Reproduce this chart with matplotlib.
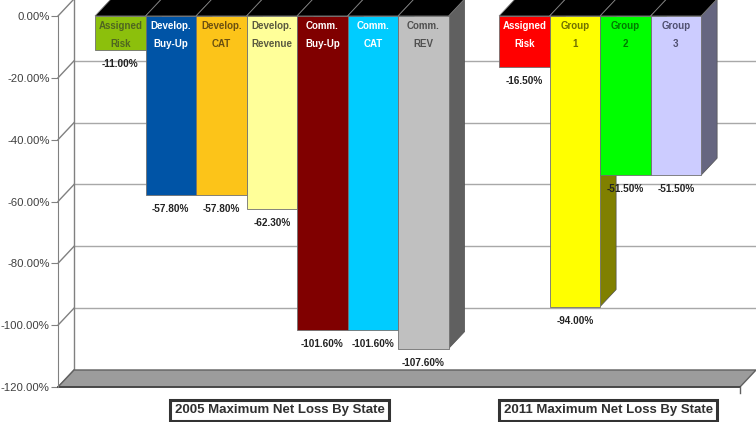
import matplotlib.pyplot as plt
from matplotlib.patches import Polygon, Rectangle
import matplotlib.colors as mcolors

# данные
labels_2005 = ['Assigned\nRisk', 'Develop.\nBuy-Up', 'Develop.\nCAT', 'Develop.\nRevenue',
               'Comm.\nBuy-Up', 'Comm.\nCAT', 'Comm.\nREV']
values_2005 = [-11.0, -57.8, -57.8, -62.3, -101.6, -101.6, -107.6]
colors_2005 = ['#8cc00c', '#0054a6', '#fcc419', '#ffff99', '#800000', '#00ccff', '#c0c0c0']
text_colors_2005 = ['#4f6620', 'white', '#6b5010', '#5a5a40', 'white', 'white', '#505050']

labels_2011 = ['Assigned\nRisk', 'Group\n1', 'Group\n2', 'Group\n3']
values_2011 = [-16.5, -94.0, -51.5, -51.5]
colors_2011 = ['#ff0000', '#ffff00', '#00ff00', '#ccccff']
text_colors_2011 = ['white', '#707000', '#007a00', '#505070']

group_titles = ['2005 Maximum Net Loss By State', '2011 Maximum Net Loss By State']
y_ticks = [0, -20, -40, -60, -80, -100, -120]

FONT = ['Liberation Sans', 'DejaVu Sans']

W, H = 756, 422
fig = plt.figure(figsize=(W / 100, H / 100), dpi=100)
ax = fig.add_axes([58 / W, (H - 387) / H, (740 - 58) / W, (387 - 16) / H])

xmin, xmax = -0.733, 12.77
ax.set_xlim(xmin, xmax)
ax.set_ylim(-120, 0)
DX, DY = 0.317, 5.5  # смещение глубины

ax.set_yticks(y_ticks)
ax.set_yticklabels(['%.2f%%' % t for t in y_ticks], fontsize=8.2, color='#404040', family=FONT)
ax.set_xticks([])
ax.tick_params(axis='y', length=5, color='#808080', pad=1)
for s in ['top', 'right', 'bottom']:
    ax.spines[s].set_visible(False)
ax.spines['left'].set_color('#808080')
ax.patch.set_visible(False)

grid_c = '#a8a8a8'
# задняя стенка и сетка
for t in y_ticks[1:-1]:
    ax.plot([xmin + DX, xmax + DX], [t + DY, t + DY], color=grid_c, lw=1, clip_on=False, zorder=1)
for t in y_ticks:
    ax.plot([xmin, xmin + DX], [t, t + DY], color='#808080', lw=1, clip_on=False, zorder=1)
ax.plot([xmin + DX, xmin + DX], [DY, -120 + DY], color='#808080', lw=1, clip_on=False, zorder=1)
ax.plot([xmin + DX, xmax + DX], [DY, DY], color='#808080', lw=1, clip_on=False, zorder=1)

# пол
floor = Polygon([(xmin, -120), (xmin + DX, -120 + DY), (xmax + DX, -120 + DY), (xmax, -120)],
                closed=True, facecolor='#9c9c9c', edgecolor='#606060', lw=1, clip_on=False, zorder=2)
ax.add_patch(floor)
ax.plot([xmin, xmax], [-120, -120], color='#404040', lw=1.2, clip_on=False, zorder=2)
ax.plot([xmax, xmax], [-120, -121.8], color='#606060', lw=1, clip_on=False, zorder=2)


def dark(c, f=0.5):
    r, g, b = mcolors.to_rgb(c)
    return (r * f, g * f, b * f)


def draw_group(start, labels, values, colors, tcolors, z0):
    for i, (lab, v, c, tc) in enumerate(zip(labels, values, colors, tcolors)):
        x = start + i
        z = z0 + i * 3
        side = Polygon([(x + 1, 0), (x + 1 + DX, DY), (x + 1 + DX, v + DY), (x + 1, v)],
                       closed=True, facecolor=dark(c), edgecolor='#505050', lw=0.5,
                       clip_on=False, zorder=z)
        top = Polygon([(x, 0), (x + DX, DY), (x + 1 + DX, DY), (x + 1, 0)],
                      closed=True, facecolor='black', edgecolor='#808080', lw=0.6,
                      clip_on=False, zorder=z + 1)
        front = Rectangle((x, v), 1, -v, facecolor=c, edgecolor='#707070', lw=0.6,
                          clip_on=False, zorder=z + 2)
        ax.add_patch(side)
        ax.add_patch(top)
        ax.add_patch(front)
        l1, l2 = lab.split('\n')
        ax.text(x + 0.5, -3.3, l1, ha='center', va='center', fontsize=7, color=tc,
                fontweight='bold', family=FONT, zorder=z + 2)
        ax.text(x + 0.5, -9.2, l2, ha='center', va='center', fontsize=7, color=tc,
                fontweight='bold', family=FONT, zorder=z + 2)
        ax.text(x + 0.5, v - 4.5, '%.2f%%' % v, ha='center', va='center', fontsize=7.2,
                color='#222222', fontweight='bold', family=FONT, zorder=50)


start_2011 = len(values_2005) + 1
draw_group(0, labels_2005, values_2005, colors_2005, text_colors_2005, 10)
draw_group(start_2011, labels_2011, values_2011, colors_2011, text_colors_2011, 40)

# подписи групп
centers = [len(values_2005) / 2 + 0.16, start_2011 + len(values_2011) / 2 + 0.16]
for cx, title in zip(centers, group_titles):
    ax.text(cx, -127.6, title, ha='center', va='center', fontsize=9.5, fontweight='bold',
            color='#303030', family=FONT, clip_on=False,
            bbox=dict(boxstyle='square,pad=0.35', facecolor='white', edgecolor='#333333', lw=2.2))

fig.savefig('out.png', dpi=100)
